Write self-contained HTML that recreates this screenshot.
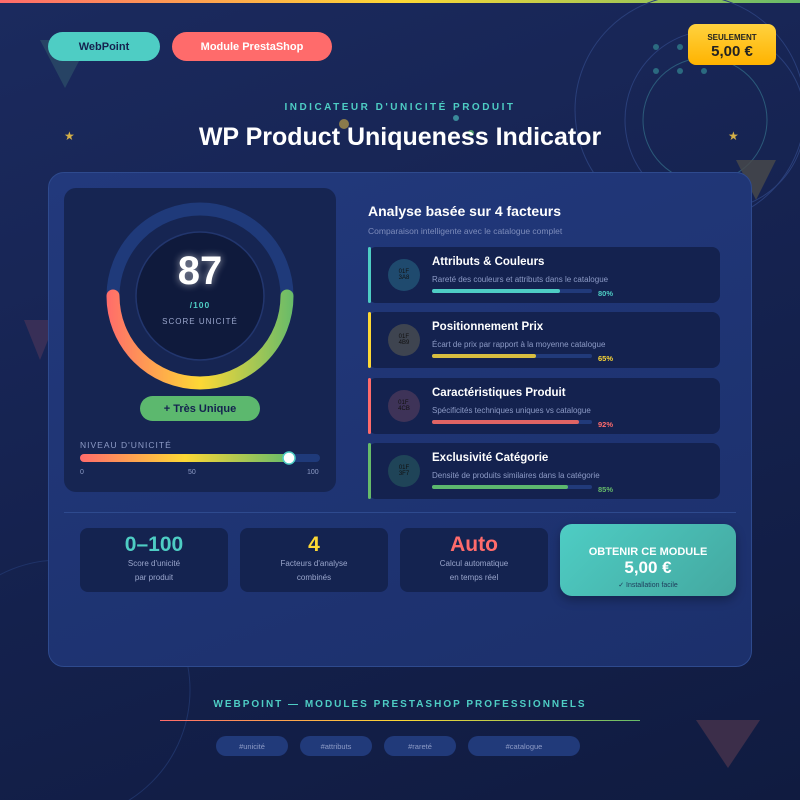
<!DOCTYPE html>
<html><head><meta charset="utf-8"><style>
*{margin:0;padding:0;box-sizing:border-box}
body{width:800px;height:800px;overflow:hidden;font-family:"Liberation Sans",sans-serif;background:linear-gradient(160deg,#1b2a5e 0%,#15224f 50%,#101b40 100%);position:relative;color:#fff}
.a{position:absolute}
.pill{position:absolute;border-radius:16px;font-weight:bold;font-size:11px;display:flex;align-items:center;justify-content:center}
.row{position:absolute;left:368px;width:352px;height:56px;background:#14224f;border-radius:8px}
.row .bar{position:absolute;left:0;top:0;width:3px;height:56px;border-radius:2px}
.row .ic{position:absolute;left:20px;top:12px;width:32px;height:32px;border-radius:50%;font-size:6px;color:#111;display:flex;align-items:center;justify-content:center}
.row .t{position:absolute;left:64px;top:9px;font-size:11.5px;font-weight:bold}
.row .d{position:absolute;left:64px;top:28px;font-size:8px;color:#8d9bc6}
.row .tr{position:absolute;left:64px;top:42px;width:160px;height:4px;border-radius:2px;background:#213a7a}
.row .fl{height:4px;border-radius:2px}
.row .p{position:absolute;left:230px;top:42px;font-size:7.5px;font-weight:bold}
.st{position:absolute;top:528px;width:148px;height:64px;background:#142350;border-radius:8px;text-align:center}
.st b{display:block;font-size:21px;margin-top:5px}
.st span{display:block;font-size:8px;color:#9aa6cc;line-height:14px}
.tag{position:absolute;top:736px;height:20px;border-radius:10px;background:#213a7a;color:#8d9bc6;font-size:7.5px;display:flex;align-items:center;justify-content:center}
</style></head><body>
<div class="a" style="left:0;top:0;width:800px;height:3px;background:linear-gradient(90deg,#ff6b6b,#fdd835,#66bb6a)"></div>
<svg class="a" style="left:0;top:0" width="800" height="800">
<circle cx="690" cy="110" r="115" fill="none" stroke="#2a3f7a" stroke-width="1"/>
<circle cx="715" cy="120" r="90" fill="none" stroke="#2a3f7a" stroke-width="1"/>
<circle cx="705" cy="120" r="62" fill="none" stroke="#2b5a7a" stroke-width="1"/>
<circle cx="60" cy="690" r="130" fill="none" stroke="#1f3368" stroke-width="1"/>
<polygon points="40,40 90,40 65,88" fill="#2a4a66" opacity=".8"/>
<polygon points="736,160 776,160 756,200" fill="#4a4a4a" opacity=".8"/>
<polygon points="24,320 56,320 40,360" fill="#5a3a5a" opacity=".5"/>
<polygon points="696,720 760,720 728,768" fill="#5a3a50" opacity=".6"/>
<g fill="#2b6a80"><circle cx="656" cy="47" r="3"/><circle cx="680" cy="47" r="3"/><circle cx="656" cy="71" r="3"/><circle cx="680" cy="71" r="3"/><circle cx="704" cy="71" r="3"/></g>
<circle cx="344" cy="124" r="5" fill="#a89048" opacity=".8"/>
<circle cx="456" cy="118" r="3" fill="#3a8a9a"/>
<circle cx="471" cy="133" r="3" fill="#4a9a6a"/>
<text x="64" y="140" fill="#d4b048" font-size="12">★</text>
<text x="728" y="140" fill="#d4b048" font-size="12">★</text>
</svg>
<div class="pill" style="left:48px;top:32px;width:112px;height:29px;background:#4ecdc4;color:#15224f">WebPoint</div>
<div class="pill" style="left:172px;top:32px;width:160px;height:29px;background:#ff6b6b;color:#fff">Module PrestaShop</div>
<div class="a" style="left:688px;top:24px;width:88px;height:41px;border-radius:8px;background:linear-gradient(180deg,#ffd23f,#ffb300);color:#222;text-align:center;font-weight:bold"><div style="font-size:8px;margin-top:9px">SEULEMENT</div><div style="font-size:15px;margin-top:1px">5,00 €</div></div>
<div class="a" style="left:0;width:800px;top:102px;text-align:center;color:#4ecdc4;font-size:10px;font-weight:bold;letter-spacing:2.5px">INDICATEUR D'UNICITÉ PRODUIT</div>
<div class="a" style="left:0;width:800px;top:123px;text-align:center;font-size:25px;font-weight:bold">WP Product Uniqueness Indicator</div>

<div class="a" style="left:48px;top:172px;width:704px;height:495px;border-radius:16px;background:linear-gradient(160deg,#22397c,#1c306c);border:1px solid #2e4a8e"></div>
<div class="a" style="left:64px;top:188px;width:272px;height:304px;border-radius:12px;background:#162552"></div>
<svg class="a" style="left:0;top:0" width="800" height="800">
<defs><linearGradient id="g" x1="106" y1="0" x2="294" y2="0" gradientUnits="userSpaceOnUse"><stop offset="0" stop-color="#ff6b6b"/><stop offset=".5" stop-color="#fdd835"/><stop offset="1" stop-color="#66bb6a"/></linearGradient>
<linearGradient id="g2" x1="0" x2="1"><stop offset="0" stop-color="#ff6b6b"/><stop offset=".5" stop-color="#fdd835"/><stop offset="1" stop-color="#66bb6a"/></linearGradient></defs>
<circle cx="200" cy="296" r="87" fill="none" stroke="#1f3a7a" stroke-width="13"/>
<path d="M113,296 A87,87 0 0 0 287,296" fill="none" stroke="url(#g)" stroke-width="13" stroke-linecap="round"/>
<circle cx="200" cy="296" r="64" fill="#0f1a3c" stroke="#22366e" stroke-width="1.5"/>
<text x="200" y="284" text-anchor="middle" font-size="40" font-weight="bold" fill="#fff" font-family="Liberation Sans" style="filter:drop-shadow(0 0 4px rgba(255,255,255,.6))">87</text>
<text x="200" y="308" text-anchor="middle" font-size="8.5" font-weight="bold" fill="#4ecdc4" font-family="Liberation Sans" letter-spacing="1">/100</text>
<text x="200" y="324" text-anchor="middle" font-size="8" fill="#9aa6cc" font-family="Liberation Sans" letter-spacing="1">SCORE UNICITÉ</text>
<rect x="80" y="454" width="240" height="8" rx="4" fill="#1f3a7a"/>
<rect x="80" y="454" width="210" height="8" rx="4" fill="url(#g2)"/>
<circle cx="289" cy="458" r="6" fill="#fff" stroke="#4ecdc4" stroke-width="1.5"/>
</svg>
<div class="pill" style="left:140px;top:396px;width:120px;height:25px;background:#5cb86e;color:#14224f;border-radius:13px">+ Très Unique</div>
<div class="a" style="left:80px;top:440px;font-size:8.5px;color:#8d9bc6;letter-spacing:1px">NIVEAU D'UNICITÉ</div>
<div class="a" style="left:80px;top:469px;font-size:7px;color:#8d9bc6">0</div>
<div class="a" style="left:188px;top:469px;font-size:7px;color:#8d9bc6">50</div>
<div class="a" style="left:307px;top:469px;font-size:7px;color:#8d9bc6">100</div>

<div class="a" style="left:368px;top:203px;font-size:14px;font-weight:bold">Analyse basée sur 4 facteurs</div>
<div class="a" style="left:368px;top:226px;font-size:8.5px;color:#7d8cbb">Comparaison intelligente avec le catalogue complet</div>
<div class="row" style="top:247px"><div class="bar" style="background:#4ecdc4"></div><div class="ic" style="background:#1f4a6e">01F<br>3A8</div><div class="t">Attributs &amp; Couleurs</div><div class="d">Rareté des couleurs et attributs dans le catalogue</div><div class="tr"><div class="fl" style="width:128px;background:#4ecdc4"></div></div><div class="p" style="color:#4ecdc4">80%</div></div>
<div class="row" style="top:312px"><div class="bar" style="background:#fdd835"></div><div class="ic" style="background:#3e4450">01F<br>4B9</div><div class="t">Positionnement Prix</div><div class="d">Écart de prix par rapport à la moyenne catalogue</div><div class="tr"><div class="fl" style="width:104px;background:#d8be40"></div></div><div class="p" style="color:#fdd835">65%</div></div>
<div class="row" style="top:378px"><div class="bar" style="background:#ff6b6b"></div><div class="ic" style="background:#3e3358">01F<br>4CB</div><div class="t">Caractéristiques Produit</div><div class="d">Spécificités techniques uniques vs catalogue</div><div class="tr"><div class="fl" style="width:147px;background:#e06464"></div></div><div class="p" style="color:#ff6b6b">92%</div></div>
<div class="row" style="top:443px"><div class="bar" style="background:#66bb6a"></div><div class="ic" style="background:#1f4458">01F<br>3F7</div><div class="t">Exclusivité Catégorie</div><div class="d">Densité de produits similaires dans la catégorie</div><div class="tr"><div class="fl" style="width:136px;background:#5cb86e"></div></div><div class="p" style="color:#66bb6a">85%</div></div>

<div class="a" style="left:64px;top:512px;width:672px;height:1px;background:#2e4a8e"></div>
<div class="st" style="left:80px"><b style="color:#4ecdc4">0–100</b><span>Score d'unicité</span><span>par produit</span></div>
<div class="st" style="left:240px"><b style="color:#fdd835">4</b><span>Facteurs d'analyse</span><span>combinés</span></div>
<div class="st" style="left:400px"><b style="color:#ff6b6b">Auto</b><span>Calcul automatique</span><span>en temps réel</span></div>
<div class="a" style="left:560px;top:524px;width:176px;height:72px;border-radius:12px;background:linear-gradient(135deg,#4ecdc4,#44a8a0);text-align:center;font-weight:bold;box-shadow:0 4px 10px rgba(0,0,0,.3)"><div style="font-size:11px;margin-top:22px">OBTENIR CE MODULE</div><div style="font-size:17px">5,00 €</div><div style="font-size:7px;font-weight:normal;color:#1e3a5a;margin-top:3px">✓ Installation facile</div></div>

<div class="a" style="left:0;width:800px;top:699px;text-align:center;color:#4ecdc4;font-size:10px;font-weight:bold;letter-spacing:2px">WEBPOINT — MODULES PRESTASHOP PROFESSIONNELS</div>
<div class="a" style="left:160px;top:720px;width:480px;height:1px;background:linear-gradient(90deg,#ff6b6b,#fdd835,#66bb6a)"></div>
<div class="tag" style="left:216px;width:72px">#unicité</div>
<div class="tag" style="left:300px;width:72px">#attributs</div>
<div class="tag" style="left:384px;width:72px">#rareté</div>
<div class="tag" style="left:468px;width:112px">#catalogue</div>
</body></html>
